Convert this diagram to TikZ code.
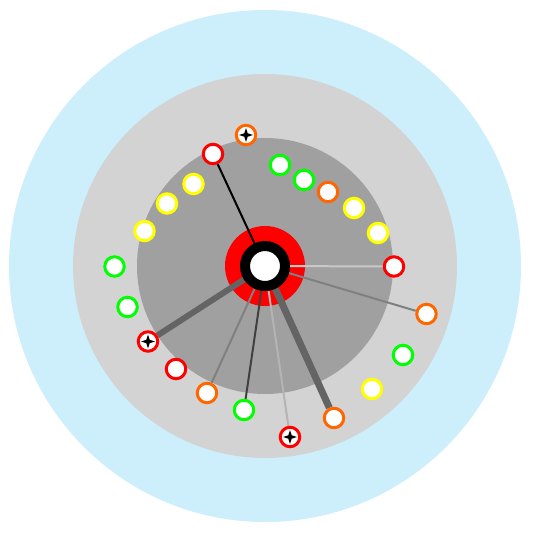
\documentclass[tikz,border=0pt]{standalone}
\pgfdeclarelayer{bg}
\pgfdeclarelayer{links}
\pgfsetlayers{bg,links,main}
\definecolor{skyring}{HTML}{CDEFFB}
\definecolor{midring}{HTML}{D3D3D3}
\definecolor{innerring}{HTML}{A0A0A0}
\definecolor{ringorange}{HTML}{FF6600}
\definecolor{ringgreen}{HTML}{00FF00}
\definecolor{ringyellow}{HTML}{FFFF00}
\definecolor{linkA}{HTML}{C8C8C8}
\definecolor{linkB}{HTML}{808080}
\definecolor{linkC}{HTML}{646464}
\definecolor{linkD}{HTML}{B4B4B4}
\definecolor{linkE}{HTML}{404040}
\tikzset{
  dot/.style={circle, inner sep=0pt, minimum size=19.5pt, line width=3pt, fill=white, draw=#1},
  link/.style={line width=#1},
  pics/compass/.style={code={
    \fill[black] (0:7) -- (45:2.4) -- (90:7) -- (135:2.4) -- (180:7) -- (225:2.4) -- (270:7) -- (315:2.4) -- cycle;
  }},
}
\begin{document}
\begin{tikzpicture}[x=1pt, y=-1pt]
\useasboundingbox (0,0) rectangle (538,538);
\begin{pgfonlayer}{bg}
  \fill[white] (0,0) rectangle (538,538);
  \fill[skyring] (265,266) circle (256);
  \fill[midring] (265,266) circle (192);
  \fill[innerring] (265,266) circle (128);
  \fill[red] (265,266) circle (40);
\end{pgfonlayer}
\node[circle, inner sep=0pt, minimum size=40pt, line width=10pt, draw=black, fill=white] (c) at (265,266) {};
\node[dot=ringorange] (n1) at (246,135) {};
\node[dot=red] (n2) at (213,154) {};
\node[dot=ringgreen] (n3) at (280,165) {};
\node[dot=ringgreen] (n4) at (304,180) {};
\node[dot=ringorange] (n5) at (328,192) {};
\node[dot=ringyellow] (n6) at (354,208) {};
\node[dot=ringyellow] (n7) at (378,233) {};
\node[dot=red] (n8) at (394,266.5) {};
\node[dot=ringorange] (n9) at (426.5,314) {};
\node[dot=ringgreen] (n10) at (403,355) {};
\node[dot=ringyellow] (n11) at (372,389) {};
\node[dot=ringorange] (n12) at (334,418) {};
\node[dot=red] (n13) at (290,437) {};
\node[dot=ringgreen] (n14) at (244,410) {};
\node[dot=ringorange] (n15) at (207,393) {};
\node[dot=red] (n16) at (176,369) {};
\node[dot=red] (n17) at (148,341.5) {};
\node[dot=ringgreen] (n18) at (127.5,307) {};
\node[dot=ringgreen] (n19) at (114.5,266.5) {};
\node[dot=ringyellow] (n20) at (144.5,231) {};
\node[dot=ringyellow] (n21) at (167,203.5) {};
\node[dot=ringyellow] (n22) at (193.5,184) {};
\pic at (n1) {compass};
\pic at (n13) {compass};
\pic at (n17) {compass};
\begin{pgfonlayer}{links}
  \draw[link=2pt, black] (c) -- (n2);
  \draw[link=2pt, linkA] (c) -- (n8);
  \draw[link=2pt, linkB] (c) -- (n9);
  \draw[link=7pt, linkC] (c) -- (n12);
  \draw[link=2pt, linkD] (c) -- (n13);
  \draw[link=2pt, linkE] (c) -- (n14);
  \draw[link=2pt, linkB] (c) -- (n15);
  \draw[link=6pt, linkC] (c) -- (n17);
\end{pgfonlayer}
\end{tikzpicture}
\end{document}
